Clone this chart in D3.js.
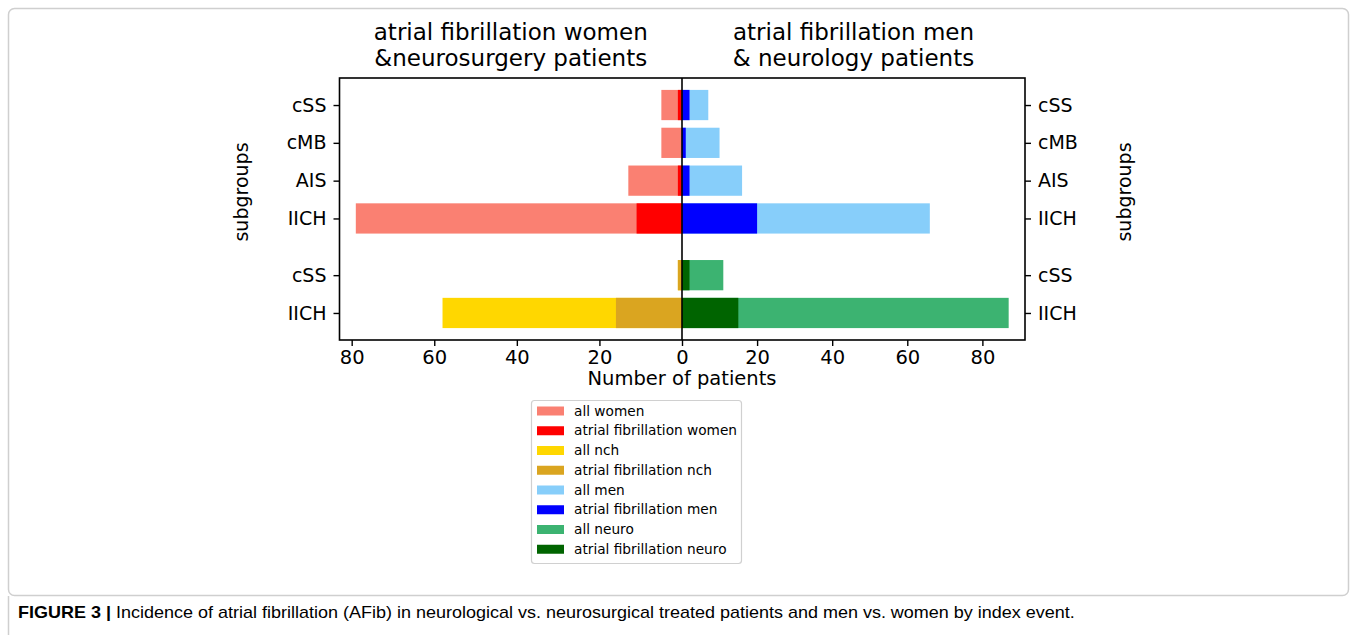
<!DOCTYPE html>
<html>
<head>
<meta charset="utf-8">
<script src="https://cdn.jsdelivr.net/npm/d3@7"></script>
<style>
  body { margin: 0; background: #fff; }
  svg { display: block; }
  text { font-family: "DejaVu Sans", sans-serif; fill: #000; }
  .caption { font-family: "Liberation Sans", Arial, sans-serif; }
</style>
</head>
<body>
<div class="chart"></div>
<script>
// subgroups, top to bottom
const subgroups = ["cSS", "cMB", "AIS", "IICH", "cSS", "IICH"];
const yPos = [0, 1, 2, 3, 4.5, 5.5];

// left side (drawn towards the left)
const allWomen = [5, 5, 13, 79];
const afWomen = [1, 0, 1, 11];
const allNch = [1, 58];
const afNch = [1, 16];

// right side
const allMen = [7, 10, 16, 66];
const afMen = [2, 1, 2, 20];
const allNeuro = [11, 87];
const afNeuro = [2, 15];

const xTicks = [0, 20, 40, 60, 80];

const legendLabels = ["all women", "atrial fibrillation women", "all nch", "atrial fibrillation nch",
  "all men", "atrial fibrillation men", "all neuro", "atrial fibrillation neuro"];
const legendColors = ["salmon", "red", "gold", "goldenrod", "lightskyblue", "blue", "mediumseagreen", "darkgreen"];

const W = 1357, H = 635;
const svg = d3.select(".chart").append("svg").attr("width", W).attr("height", H);

// figure frame
svg.append("rect")
  .attr("x", 8.5).attr("y", 8.5).attr("width", 1340).attr("height", 587)
  .attr("rx", 6).attr("fill", "none").attr("stroke", "#cfcfcf").attr("stroke-width", 1.5);
svg.append("line").attr("x1", 8.5).attr("x2", 8.5).attr("y1", 596).attr("y2", H)
  .attr("stroke", "#cfcfcf").attr("stroke-width", 1.5);

const pLeft = 339.5, pMid = 682, pRight = 1025, pTop = 78, pBottom = 340;

// scales
let xL = d3.scaleLinear()
  .domain([0, d3.max(allWomen.concat(allNch)) * 1.05])
  .range([pMid, pLeft]);
let xR = d3.scaleLinear()
  .domain([0, d3.max(allMen.concat(allNeuro)) * 1.05])
  .range([pMid, pRight]);
let y = d3.scaleLinear()
  .domain([-0.715, 6.215])
  .range([pTop, pBottom]);
const bh = y(0.8) - y(0);

function bars(vals, idx, x, color) {
  svg.append("g").selectAll("rect")
    .data(vals)
    .join("rect")
    .attr("x", d => Math.min(x(0), x(d)))
    .attr("width", d => Math.abs(x(d) - x(0)))
    .attr("y", (d, i) => y(yPos[idx[i]]) - bh / 2)
    .attr("height", bh)
    .attr("fill", color);
}

bars(allWomen, [0, 1, 2, 3], xL, "salmon");
bars(afWomen, [0, 1, 2, 3], xL, "red");
bars(allNch, [4, 5], xL, "gold");
bars(afNch, [4, 5], xL, "goldenrod");
bars(allMen, [0, 1, 2, 3], xR, "lightskyblue");
bars(afMen, [0, 1, 2, 3], xR, "blue");
bars(allNeuro, [4, 5], xR, "mediumseagreen");
bars(afNeuro, [4, 5], xR, "darkgreen");

// frames
svg.append("rect").attr("x", pLeft).attr("y", pTop).attr("width", pRight - pLeft).attr("height", pBottom - pTop)
  .attr("fill", "none").attr("stroke", "#000").attr("stroke-width", 1.6);
svg.append("line").attr("x1", pMid).attr("x2", pMid).attr("y1", pTop).attr("y2", pBottom)
  .attr("stroke", "#000").attr("stroke-width", 1.6);

// x axes
const fs = 19;
let axL = svg.append("g")
  .attr("transform", "translate(0," + pBottom + ")")
  .call(d3.axisBottom(xL).tickValues(xTicks).tickSize(6).tickPadding(4));
let axR = svg.append("g")
  .attr("transform", "translate(0," + pBottom + ")")
  .call(d3.axisBottom(xR).tickValues(xTicks.slice(1)).tickSize(6).tickPadding(4));
[axL, axR].forEach(a => {
  a.select(".domain").remove();
  a.selectAll("line").attr("stroke-width", 1.4);
  a.selectAll("text").style("font-size", "19.5px").style("font-family", "DejaVu Sans");
});

// y axes
let yAxL = svg.append("g")
  .attr("transform", "translate(" + pLeft + ",0)")
  .call(d3.axisLeft(y).tickValues(yPos).tickFormat((d, i) => subgroups[i]).tickSize(6).tickPadding(7));
let yAxR = svg.append("g")
  .attr("transform", "translate(" + pRight + ",0)")
  .call(d3.axisRight(y).tickValues(yPos).tickFormat((d, i) => subgroups[i]).tickSize(6).tickPadding(7));
[yAxL, yAxR].forEach(a => {
  a.select(".domain").remove();
  a.selectAll("line").attr("stroke-width", 1.4);
  a.selectAll("text").style("font-size", fs + "px").style("font-family", "DejaVu Sans");
});

// axis labels
svg.append("text").attr("x", pMid).attr("y", 385).attr("text-anchor", "middle")
  .style("font-size", "19.5px").text("Number of patients");
svg.append("text").attr("transform", "translate(248,192) rotate(-90)").attr("text-anchor", "middle")
  .style("font-size", fs + "px").text("subgroups");
svg.append("text").attr("transform", "translate(1131,192) rotate(-90)").attr("text-anchor", "middle")
  .style("font-size", fs + "px").text("subgroups");

// titles
const ts = 23;
[["atrial fibrillation women", "&neurosurgery patients", (pLeft + pMid) / 2],
 ["atrial fibrillation men", "& neurology patients", (pMid + pRight) / 2]].forEach(t => {
  let g = svg.append("text").attr("text-anchor", "middle").style("font-size", ts + "px");
  g.append("tspan").attr("x", t[2]).attr("y", 40).text(t[0]);
  g.append("tspan").attr("x", t[2]).attr("y", 66).text(t[1]);
});

// legend
const lg = svg.append("g");
lg.append("rect").attr("x", 531.5).attr("y", 400.5).attr("width", 210).attr("height", 163).attr("rx", 3)
  .attr("fill", "#fff").attr("stroke", "#d0d0d0").attr("stroke-width", 1.2);
legendLabels.forEach((l, i) => {
  let yy = 411 + i * 19.75;
  lg.append("rect").attr("x", 537).attr("y", yy - 4.5).attr("width", 27).attr("height", 9).attr("fill", legendColors[i]);
  lg.append("text").attr("x", 574).attr("y", yy + 4.5).style("font-size", "13.7px").text(l);
});

// caption, squeezed horizontally to the condensed width of the original
let cap = svg.append("text").attr("class", "caption").attr("x", 0).attr("y", 0).style("font-size", "17px");
cap.append("tspan").style("font-weight", "bold").text("FIGURE 3 | ");
cap.append("tspan").text("Incidence of atrial fibrillation (AFib) in neurological vs. neurosurgical treated patients and men vs. women by index event.");
const capW = cap.node().getComputedTextLength();
cap.attr("transform", "translate(18,618) scale(" + (1057 / capW) + ",1)");
</script>
</body>
</html>
